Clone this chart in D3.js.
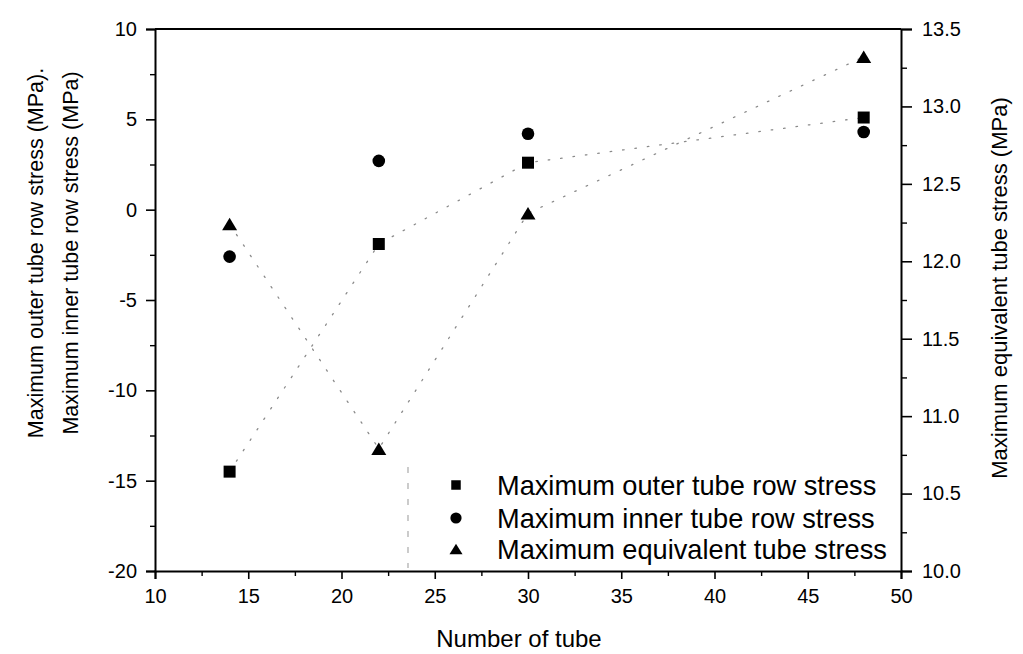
<!DOCTYPE html>
<html>
<head>
<meta charset="utf-8">
<script src="https://cdn.jsdelivr.net/npm/d3@7"></script>
<style>
  html, body { margin: 0; padding: 0; background: #fff; }
  svg text { font-family: "Liberation Sans", Arial, Helvetica, sans-serif; fill: #000; }
</style>
</head>
<body>
<svg id="chart" width="1023" height="654"></svg>
<script>
// Number of tubes on the x axis
const tubeCounts = [14, 22, 30, 48];
// Left axis series (MPa)
const outerStress = [-14.5, -1.9, 2.6, 5.1];
const innerStress = [-2.6, 2.7, 4.2, 4.3];
// Right axis series (MPa)
const equivStress = [12.24, 10.79, 12.31, 13.32];

const xTickValues = [10, 15, 20, 25, 30, 35, 40, 45, 50];
const leftTickValues = [-20, -15, -10, -5, 0, 5, 10];
const rightTickValues = [10.0, 10.5, 11.0, 11.5, 12.0, 12.5, 13.0, 13.5];

const xLabel = "Number of tube";
const leftLabels = ["Maximum outer tube row stress (MPa).", "Maximum inner tube row stress (MPa)"];
const rightLabel = "Maximum equivalent tube stress (MPa)";
const legendLabels = ["Maximum outer tube row stress", "Maximum inner tube row stress", "Maximum equivalent tube stress"];

const plot = { left: 155, right: 901, top: 29, bottom: 571 };

const svg = d3.select("#chart");

const x = d3.scaleLinear().domain([10, 50]).range([plot.left, plot.right]);
const yL = d3.scaleLinear().domain([-20, 10]).range([plot.bottom, plot.top]);
const yR = d3.scaleLinear().domain([10, 13.5]).range([plot.bottom, plot.top]);

// plain hyphen for negative numbers
const intFmt = d => String(d);

// marker shapes
function squarePath(s) { const h = s / 2; return `M${-h},${-h}H${h}V${h}H${-h}Z`; }
function trianglePath(w, h) { return `M0,${-h / 2}L${w / 2},${h / 2}L${-w / 2},${h / 2}Z`; }

// faint dotted trend lines through the outer-row and equivalent series
const lineL = d3.line().x((d, i) => x(tubeCounts[i])).y(d => yL(d));
const lineR = d3.line().x((d, i) => x(tubeCounts[i])).y(d => yR(d));
const trend = svg.append("g")
  .attr("fill", "none").attr("stroke", "#8a8a8a").attr("stroke-width", 1.3)
  .attr("stroke-dasharray", "1.5,11").attr("stroke-linecap", "round");
trend.append("path").attr("d", lineL(outerStress));
trend.append("path").attr("d", lineR(equivStress));

// top frame line
svg.append("line")
  .attr("x1", plot.left).attr("x2", plot.right)
  .attr("y1", plot.top).attr("y2", plot.top)
  .attr("stroke", "#000").attr("stroke-width", 2);

// bottom axis
const minorX = d3.range(10, 50.01, 2.5).filter(v => v % 5 !== 0);
const gx = svg.append("g").attr("transform", `translate(0,${plot.bottom})`);
gx.call(d3.axisBottom(x).tickValues(minorX).tickSize(5).tickFormat(""));
gx.call(g => g.select(".domain").remove());
const gxMajor = svg.append("g").attr("transform", `translate(0,${plot.bottom})`)
  .call(d3.axisBottom(x).tickValues(xTickValues).tickSize(8).tickPadding(10).tickFormat(intFmt));
gxMajor.select(".domain").attr("stroke-width", 2);
gxMajor.selectAll(".tick line").attr("stroke-width", 1.6);
gxMajor.selectAll(".tick text").attr("font-size", 20);
gx.selectAll(".tick line").attr("stroke-width", 1.4);

// left axis
const minorL = d3.range(-20, 10.01, 2.5).filter(v => v % 5 !== 0);
const gl = svg.append("g").attr("transform", `translate(${plot.left},0)`);
gl.call(d3.axisLeft(yL).tickValues(minorL).tickSize(5).tickFormat(""));
gl.call(g => g.select(".domain").remove());
gl.selectAll(".tick line").attr("stroke-width", 1.4);
const glMajor = svg.append("g").attr("transform", `translate(${plot.left},0)`)
  .call(d3.axisLeft(yL).tickValues(leftTickValues).tickSize(9).tickPadding(9).tickFormat(intFmt));
glMajor.select(".domain").attr("stroke-width", 2);
glMajor.selectAll(".tick line").attr("stroke-width", 1.6);
glMajor.selectAll(".tick text").attr("font-size", 20);

// right axis
const minorR = d3.range(10.25, 13.5, 0.5);
const gr = svg.append("g").attr("transform", `translate(${plot.right},0)`);
gr.call(d3.axisRight(yR).tickValues(minorR).tickSize(6).tickFormat(""));
gr.call(g => g.select(".domain").remove());
gr.selectAll(".tick line").attr("stroke-width", 1.4);
const grMajor = svg.append("g").attr("transform", `translate(${plot.right},0)`)
  .call(d3.axisRight(yR).tickValues(rightTickValues).tickSize(11).tickPadding(10).tickFormat(d3.format(".1f")));
grMajor.select(".domain").attr("stroke-width", 2);
grMajor.selectAll(".tick line").attr("stroke-width", 1.6);
grMajor.selectAll(".tick text").attr("font-size", 20);

svg.selectAll(".domain").attr("stroke", "#000");
svg.selectAll(".tick line").attr("stroke", "#000");
svg.selectAll(".tick text").attr("fill", "#000");

// axis titles
svg.append("text").attr("x", 519).attr("y", 647)
  .attr("text-anchor", "middle").attr("font-size", 24).text(xLabel);
[43, 78].forEach((bx, i) => {
  svg.append("text")
    .attr("transform", `translate(${bx},253) rotate(-90)`)
    .attr("text-anchor", "middle").attr("font-size", 21.5).text(leftLabels[i]);
});
svg.append("text")
  .attr("transform", `translate(1007,288) rotate(-90)`)
  .attr("text-anchor", "middle").attr("font-size", 22).text(rightLabel);

// data markers
const marks = svg.append("g").attr("fill", "#000");
marks.selectAll(".sq").data(outerStress).join("path")
  .attr("d", squarePath(12))
  .attr("transform", (d, i) => `translate(${x(tubeCounts[i])},${yL(d)})`);
marks.selectAll(".ci").data(innerStress).join("circle")
  .attr("r", 6.3)
  .attr("cx", (d, i) => x(tubeCounts[i])).attr("cy", d => yL(d));
marks.selectAll(".tr").data(equivStress).join("path")
  .attr("d", trianglePath(15, 12.5))
  .attr("transform", (d, i) => `translate(${x(tubeCounts[i])},${yR(d)})`);

// legend
svg.append("line")
  .attr("x1", 408).attr("x2", 408).attr("y1", 467).attr("y2", 568)
  .attr("stroke", "#aaa").attr("stroke-width", 1.2).attr("stroke-dasharray", "6,10");
const legendRows = [485, 518, 549];
const legendShapes = [
  g => g.append("path").attr("d", squarePath(9.5)),
  g => g.append("circle").attr("r", 5.6),
  g => g.append("path").attr("d", trianglePath(13, 10.5))
];
legendLabels.forEach((lab, i) => {
  const g = svg.append("g").attr("transform", `translate(456,${legendRows[i]})`).attr("fill", "#000");
  legendShapes[i](g);
  g.append("text").attr("x", 41).attr("y", 9.5).attr("font-size", 27.2).text(lab);
});
</script>
</body>
</html>
